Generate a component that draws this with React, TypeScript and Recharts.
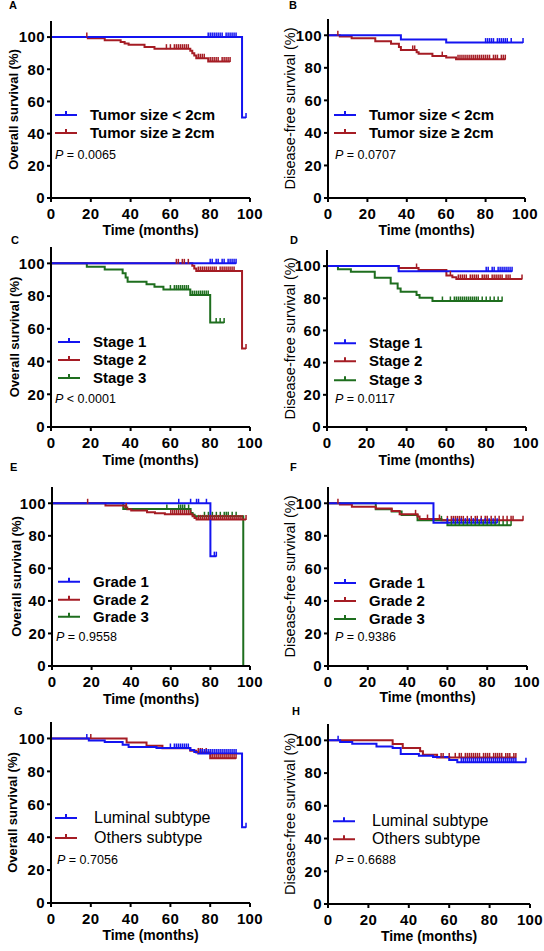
import React from 'react';
import { LineChart, Line, XAxis, YAxis, Legend } from 'recharts';

// Kaplan-Meier curves: events are [months, survival %], censored are the months of the tick marks
const aSmallEvents = [[0, 100], [96, 50]];
const aSmallCensored = [79, 80, 81, 82, 83, 84, 85, 86, 88, 89, 90, 91, 92, 93, 98];
const aLargeEvents = [[0, 100], [18.5, 99.3], [27, 98.1], [35, 96.9], [37, 96], [39, 95.2], [47, 93.8], [52, 92.8], [70, 91.5], [71, 90], [72, 88.5], [73, 86.9], [79, 84.8]];
const aLargeCensored = [18, 58, 60, 62, 63, 64, 65, 66, 67, 68, 69, 74, 75, 76, 77, 80, 81, 82, 83, 84, 86, 87, 88, 89, 90];

const bSmallEvents = [[0, 100], [37, 97.4], [60, 95.5]];
const bSmallCensored = [80, 81, 82, 83, 84, 86, 87, 88, 89, 90, 91, 93, 99];
const bLargeEvents = [[0, 100], [6, 99.3], [12, 98.2], [24, 96.3], [32, 94.8], [36, 92.8], [37, 91], [45, 89.5], [46, 88.6], [53, 87.2], [60, 86.3], [65, 85.3]];
const bLargeCensored = [5, 43, 44, 58, 66, 67, 68, 69, 70, 71, 72, 73, 74, 75, 76, 77, 78, 79, 80, 81, 82, 84, 85, 86, 88, 89, 90];

const cStage1Events = [[0, 100]];
const cStage1Censored = [80, 81, 83, 84, 86, 87, 89, 90, 91, 92, 93];
const cStage2Events = [[0, 100], [71, 98.5], [72, 96.8], [73, 95.3], [96, 48]];
const cStage2Censored = [63, 64, 66, 67, 69, 74, 75, 76, 77, 78, 79, 80, 81, 82, 83, 85, 86, 87, 88, 89, 90, 91, 92, 98];
const cStage3Events = [[0, 100], [18, 98], [27, 96.3], [36, 93.9], [37.5, 91.4], [38.5, 88.8], [48, 87.2], [52, 85.7], [56.5, 84], [70, 80.6], [80, 63.9]];
const cStage3Censored = [60, 62, 63, 64, 65, 66, 67, 68, 69, 71, 72, 73, 74, 75, 76, 77, 78, 79, 83, 85, 87];

const dStage1Events = [[0, 100], [36, 96.8]];
const dStage1Censored = [80, 81, 83, 84, 86, 87, 88, 89, 90, 91, 92, 93];
const dStage2Events = [[0, 100], [36, 98.8], [46, 97.6], [60, 94.2], [63, 93], [65, 92]];
const dStage2Censored = [45, 62, 66, 67, 68, 69, 70, 72, 73, 74, 75, 76, 78, 79, 80, 81, 83, 84, 85, 86, 87, 88, 90, 91, 92, 98];
const dStage3Events = [[0, 100], [5.5, 98.1], [12, 96.5], [24, 92.8], [32, 89.2], [35.5, 86.1], [37, 84], [45, 82], [46.5, 80.3], [53, 78.3]];
const dStage3Censored = [58, 62, 64, 65, 66, 67, 68, 69, 70, 71, 72, 73, 74, 75, 76, 78, 80, 82, 84, 86, 88];

const eGrade1Events = [[0, 100], [80, 67.5]];
const eGrade1Censored = [64, 70, 73, 74, 78, 82, 83];
const eGrade2Events = [[0, 100], [27, 98.6], [37, 97.4], [38, 96.3], [40, 95.5], [48, 94.5], [52, 93.8], [57, 93.2], [71, 92], [72, 91], [73, 90.1]];
const eGrade2Censored = [18, 37.5, 60, 61, 62, 63, 64, 65, 66, 67, 68, 69, 70, 74, 75, 76, 77, 78, 79, 80, 81, 82, 83, 84, 85, 86, 87, 88, 89, 90, 91, 92, 93, 94, 95, 96, 98];
const eGrade3Events = [[0, 100], [36, 96.5], [70, 94], [71, 93], [72, 92], [96.6, 0]];
const eGrade3Censored = [37.6, 58, 64, 65, 66, 67, 69, 77, 79, 81, 83, 85, 87, 88, 89, 91, 93];

const fGrade1Events = [[0, 100], [53, 88.1]];
const fGrade1Censored = [60, 63, 65, 67, 69, 71, 73, 75, 77, 79, 81, 83, 85];
const fGrade2Events = [[0, 100], [6, 99.3], [12, 97.9], [24, 96.8], [32, 95.3], [36, 93.2], [45, 91.8], [46, 90.3], [57, 89.5]];
const fGrade2Censored = [5, 44, 50, 56, 60, 62, 63, 64, 65, 66, 67, 68, 70, 72, 74, 75, 77, 79, 80, 82, 84, 86, 88, 90, 92, 93, 98];
const fGrade3Events = [[0, 100], [24, 96.3], [32, 95], [37, 92.8], [45, 89.5], [60, 86.5]];
const fGrade3Censored = [57, 62, 64, 66, 68, 70, 72, 74, 76, 78, 80, 82, 84, 86, 88, 90, 92];

const gLuminalEvents = [[0, 100], [19, 98.8], [27, 97.8], [36, 96.2], [39, 94.8], [53, 94.2], [70, 93], [72, 91.8], [74, 90.8], [96, 46]];
const gLuminalCensored = [18, 60, 62, 63, 64, 65, 66, 67, 68, 69, 75, 76, 77, 78, 79, 80, 81, 82, 83, 84, 85, 86, 87, 88, 89, 90, 91, 92, 93, 98];
const gOthersEvents = [[0, 100], [38, 97.6], [48, 95.6], [56, 94.1], [70, 92.5], [73, 91.5], [80, 87.9]];
const gOthersCensored = [20, 74, 75, 76, 78, 81, 82, 83, 84, 85, 86, 87, 88, 89, 90, 91, 92, 93];

const hLuminalEvents = [[0, 100], [6, 99], [12, 98], [24, 96.3], [32, 95.3], [36, 91.6], [45, 90.6], [52, 89.8], [60, 88], [64, 86.7]];
const hLuminalCensored = [5, 66, 67, 68, 69, 70, 71, 72, 73, 74, 75, 76, 77, 78, 79, 80, 81, 82, 83, 84, 85, 86, 87, 88, 89, 90, 91, 92, 93, 98];
const hOthersEvents = [[0, 100], [32, 97.8], [37, 95.3], [45.6, 93.3], [47, 91.2], [54, 89.6]];
const hOthersCensored = [56, 57, 60, 63, 65, 66, 68, 69, 70, 71, 72, 73, 74, 75, 77, 78, 79, 80, 82, 83, 84, 85, 86, 88, 89, 90, 92, 93];

const xTicks = [0, 20, 40, 60, 80, 100];
const yTicks = [0, 20, 40, 60, 80, 100];

const BLUE = '#1414f0';
const RED = '#a51c24';
const GREEN = '#1e6e1e';
const FONT = '"Liberation Sans", Arial, sans-serif';

interface KMPoint { t: number; s: number; c: number }

// merge events and censor ticks into one step series
const km = (events: number[][], censored: number[]): KMPoint[] => {
  const pts: KMPoint[] = events.map(([t, s]) => ({ t, s, c: 0 }));
  censored.forEach((t) => {
    const prev = events.filter((e) => e[0] <= t).pop() as number[];
    pts.push({ t, s: prev[1], c: 1 });
  });
  return pts.sort((a, b) => a.t - b.t);
};

interface Series { name: string; color: string; data: KMPoint[] }

interface PanelCfg {
  letter: string;
  letterPos: [number, number];
  col: number;
  plot: { x0: number; x1: number; yTop: number; yBot: number };
  yLabel: string;
  yLabelX: number;
  right: boolean;
  series: Series[];
  pText: string;
  legend: { lx: number; tx: number; ly: number; gap: number; px: number; py: number; size: number; weight: string };
  titleGap: number;
}

const panels: PanelCfg[] = [
  {
    letter: 'A', letterPos: [13, 5], col: 0, plot: { x0: 51, x1: 250, yTop: 21, yBot: 198 },
    yLabel: 'Overall survival (%)', yLabelX: 13, right: false,
    series: [
      { name: 'Tumor size < 2cm', color: BLUE, data: km(aSmallEvents, aSmallCensored) },
      { name: 'Tumor size ≥ 2cm', color: RED, data: km(aLargeEvents, aLargeCensored) },
    ],
    pText: '= 0.0065',
    legend: { lx: 55, tx: 90, ly: 115, gap: 18, px: 55, py: 155, size: 15, weight: 'bold' },
    titleGap: 37,
  },
  {
    letter: 'B', letterPos: [293, 5], col: 272, plot: { x0: 328, x1: 525, yTop: 19, yBot: 198 },
    yLabel: 'Disease-free survival (%)', yLabelX: 18, right: true,
    series: [
      { name: 'Tumor size < 2cm', color: BLUE, data: km(bSmallEvents, bSmallCensored) },
      { name: 'Tumor size ≥ 2cm', color: RED, data: km(bLargeEvents, bLargeCensored) },
    ],
    pText: '= 0.0707',
    legend: { lx: 334, tx: 369, ly: 115, gap: 18, px: 335, py: 155, size: 15, weight: 'bold' },
    titleGap: 37,
  },
  {
    letter: 'C', letterPos: [15, 240], col: 0, plot: { x0: 51, x1: 250, yTop: 247, yBot: 427 },
    yLabel: 'Overall survival (%)', yLabelX: 14, right: false,
    series: [
      { name: 'Stage 1', color: BLUE, data: km(cStage1Events, cStage1Censored) },
      { name: 'Stage 2', color: RED, data: km(cStage2Events, cStage2Censored) },
      { name: 'Stage 3', color: GREEN, data: km(cStage3Events, cStage3Censored) },
    ],
    pText: '< 0.0001',
    legend: { lx: 58, tx: 93, ly: 342, gap: 18, px: 55, py: 399, size: 15, weight: 'bold' },
    titleGap: 38,
  },
  {
    letter: 'D', letterPos: [294, 240], col: 272, plot: { x0: 327, x1: 526, yTop: 250, yBot: 427 },
    yLabel: 'Disease-free survival (%)', yLabelX: 18, right: true,
    series: [
      { name: 'Stage 1', color: BLUE, data: km(dStage1Events, dStage1Censored) },
      { name: 'Stage 2', color: RED, data: km(dStage2Events, dStage2Censored) },
      { name: 'Stage 3', color: GREEN, data: km(dStage3Events, dStage3Censored) },
    ],
    pText: '= 0.0117',
    legend: { lx: 334, tx: 369, ly: 343, gap: 18.5, px: 335, py: 399, size: 15, weight: 'bold' },
    titleGap: 38,
  },
  {
    letter: 'E', letterPos: [14, 467], col: 0, plot: { x0: 52, x1: 250, yTop: 487, yBot: 666 },
    yLabel: 'Overall survival (%)', yLabelX: 16, right: false,
    series: [
      { name: 'Grade 1', color: BLUE, data: km(eGrade1Events, eGrade1Censored) },
      { name: 'Grade 2', color: RED, data: km(eGrade2Events, eGrade2Censored) },
      { name: 'Grade 3', color: GREEN, data: km(eGrade3Events, eGrade3Censored) },
    ],
    pText: '= 0.9558',
    legend: { lx: 58, tx: 93, ly: 582, gap: 17.5, px: 56, py: 637, size: 15, weight: 'bold' },
    titleGap: 38,
  },
  {
    letter: 'F', letterPos: [294, 467], col: 272, plot: { x0: 328, x1: 527, yTop: 487, yBot: 666 },
    yLabel: 'Disease-free survival (%)', yLabelX: 18, right: true,
    series: [
      { name: 'Grade 1', color: BLUE, data: km(fGrade1Events, fGrade1Censored) },
      { name: 'Grade 2', color: RED, data: km(fGrade2Events, fGrade2Censored) },
      { name: 'Grade 3', color: GREEN, data: km(fGrade3Events, fGrade3Censored) },
    ],
    pText: '= 0.9386',
    legend: { lx: 334, tx: 369, ly: 583, gap: 18, px: 335, py: 637, size: 15, weight: 'bold' },
    titleGap: 36,
  },
  {
    letter: 'G', letterPos: [18, 711], col: 0, plot: { x0: 51, x1: 250, yTop: 722, yBot: 903 },
    yLabel: 'Overall survival (%)', yLabelX: 12, right: false,
    series: [
      { name: 'Luminal subtype', color: BLUE, data: km(gLuminalEvents, gLuminalCensored) },
      { name: 'Others subtype', color: RED, data: km(gOthersEvents, gOthersCensored) },
    ],
    pText: '= 0.7056',
    legend: { lx: 55, tx: 94, ly: 818, gap: 20, px: 57, py: 860, size: 16, weight: 'normal' },
    titleGap: 37,
  },
  {
    letter: 'H', letterPos: [296, 711], col: 272, plot: { x0: 328, x1: 530, yTop: 724, yBot: 904 },
    yLabel: 'Disease-free survival (%)', yLabelX: 18, right: true,
    series: [
      { name: 'Luminal subtype', color: BLUE, data: km(hLuminalEvents, hLuminalCensored) },
      { name: 'Others subtype', color: RED, data: km(hOthersEvents, hOthersCensored) },
    ],
    pText: '= 0.6688',
    legend: { lx: 333, tx: 372, ly: 821, gap: 18.5, px: 335, py: 860, size: 16, weight: 'normal' },
    titleGap: 37,
  },
];

const TOP_PAD = 8;
const X_AXIS_H = 42;

const censorTick = (color: string) => (props: any) => {
  const { cx, cy, payload, index } = props;
  if (!payload || !payload.c) return <g key={`n-${index}`} />;
  return <line key={`c-${index}`} x1={cx} x2={cx} y1={cy - 4.5} y2={cy + 0.5} stroke={color} strokeWidth={1.5} />;
};

const tickStyle = { fill: '#000', fontSize: 15, fontWeight: 'bold', fontFamily: FONT, letterSpacing: 0.4 };

const Panel: React.FC<{ cfg: PanelCfg }> = ({ cfg }) => {
  const { plot, col, legend } = cfg;
  const chartTop = plot.yTop - TOP_PAD;
  const height = plot.yBot - plot.yTop + TOP_PAD + X_AXIS_H;
  const legendTop = legend.ly - legend.gap / 2;

  const renderLegend = () => (
    <div style={{ position: 'relative', fontFamily: FONT, color: '#000' }}>
      {cfg.series.map((s, i) => (
        <div
          key={s.name}
          style={{ position: 'absolute', left: 0, top: i * legend.gap, height: legend.gap, display: 'flex', alignItems: 'center', whiteSpace: 'nowrap' }}
        >
          <svg width={22} height={legend.gap} style={{ marginRight: legend.tx - legend.lx - 22, flexShrink: 0 }}>
            <line x1={0} x2={22} y1={legend.gap / 2} y2={legend.gap / 2} stroke={s.color} strokeWidth={2} />
            <line x1={11} x2={11} y1={legend.gap / 2 - 4} y2={legend.gap / 2} stroke={s.color} strokeWidth={2} />
          </svg>
          <span style={{ fontSize: legend.size, fontWeight: legend.weight as any, lineHeight: `${legend.gap}px` }}>{s.name}</span>
        </div>
      ))}
      <div
        style={{ position: 'absolute', left: legend.px - legend.lx, top: legend.py - legendTop - 8, fontSize: 12.5, lineHeight: '16px', whiteSpace: 'nowrap' }}
      >
        <i>P</i> {cfg.pText}
      </div>
    </div>
  );

  return (
    <div style={{ position: 'absolute', left: col, top: chartTop }}>
      <LineChart
        width={272}
        height={height}
        margin={{ top: TOP_PAD, right: col + 272 - plot.x1, bottom: 0, left: 0 }}
      >
        <XAxis
          type="number"
          dataKey="t"
          domain={[0, 100]}
          ticks={xTicks}
          height={X_AXIS_H}
          allowDataOverflow
          axisLine={{ stroke: '#000', strokeWidth: 2 }}
          tickLine={{ stroke: '#000', strokeWidth: 2 }}
          tickSize={4}
          tickMargin={6}
          tick={tickStyle}
          label={{
            value: 'Time (months)',
            position: 'insideBottom',
            offset: X_AXIS_H - cfg.titleGap,
            style: { fill: '#000', fontSize: 14, fontWeight: 'bold', fontFamily: FONT },
          }}
        />
        <YAxis
          type="number"
          domain={[0, 110]}
          ticks={yTicks}
          width={plot.x0 - col}
          allowDataOverflow
          axisLine={{ stroke: '#000', strokeWidth: 2 }}
          tickLine={{ stroke: '#000', strokeWidth: 2 }}
          tickSize={4}
          tickMargin={2}
          tick={tickStyle}
          label={{
            value: cfg.yLabel,
            angle: -90,
            position: 'insideLeft',
            offset: cfg.yLabelX,
            style: {
              textAnchor: 'middle',
              fill: '#000',
              fontSize: cfg.right ? 14.5 : 13,
              fontWeight: cfg.right ? 'normal' : 'bold',
              fontFamily: FONT,
            },
          }}
        />
        <Legend
          layout="vertical"
          align="center"
          verticalAlign="middle"
          wrapperStyle={{ left: legend.lx - col, top: legendTop - chartTop, width: 200, height: 80 }}
          content={renderLegend}
        />
        {[...cfg.series].reverse().map((s) => (
          <Line
            key={s.name}
            name={s.name}
            data={s.data}
            dataKey="s"
            type="stepAfter"
            stroke={s.color}
            strokeWidth={2}
            dot={censorTick(s.color)}
            activeDot={false}
            isAnimationActive={false}
          />
        ))}
      </LineChart>
    </div>
  );
};

const App: React.FC = () => (
  <div style={{ position: 'absolute', left: 0, top: 0, width: 544, height: 951, background: '#fff', overflow: 'hidden' }}>
    {panels.map((p) => (
      <Panel key={p.letter} cfg={p} />
    ))}
    {panels.map((p) => (
      <div
        key={`l-${p.letter}`}
        style={{ position: 'absolute', left: p.letterPos[0] - 4, top: p.letterPos[1] - 7, fontFamily: FONT, fontWeight: 'bold', fontSize: 11, lineHeight: '14px' }}
      >
        {p.letter}
      </div>
    ))}
  </div>
);

export default App;
